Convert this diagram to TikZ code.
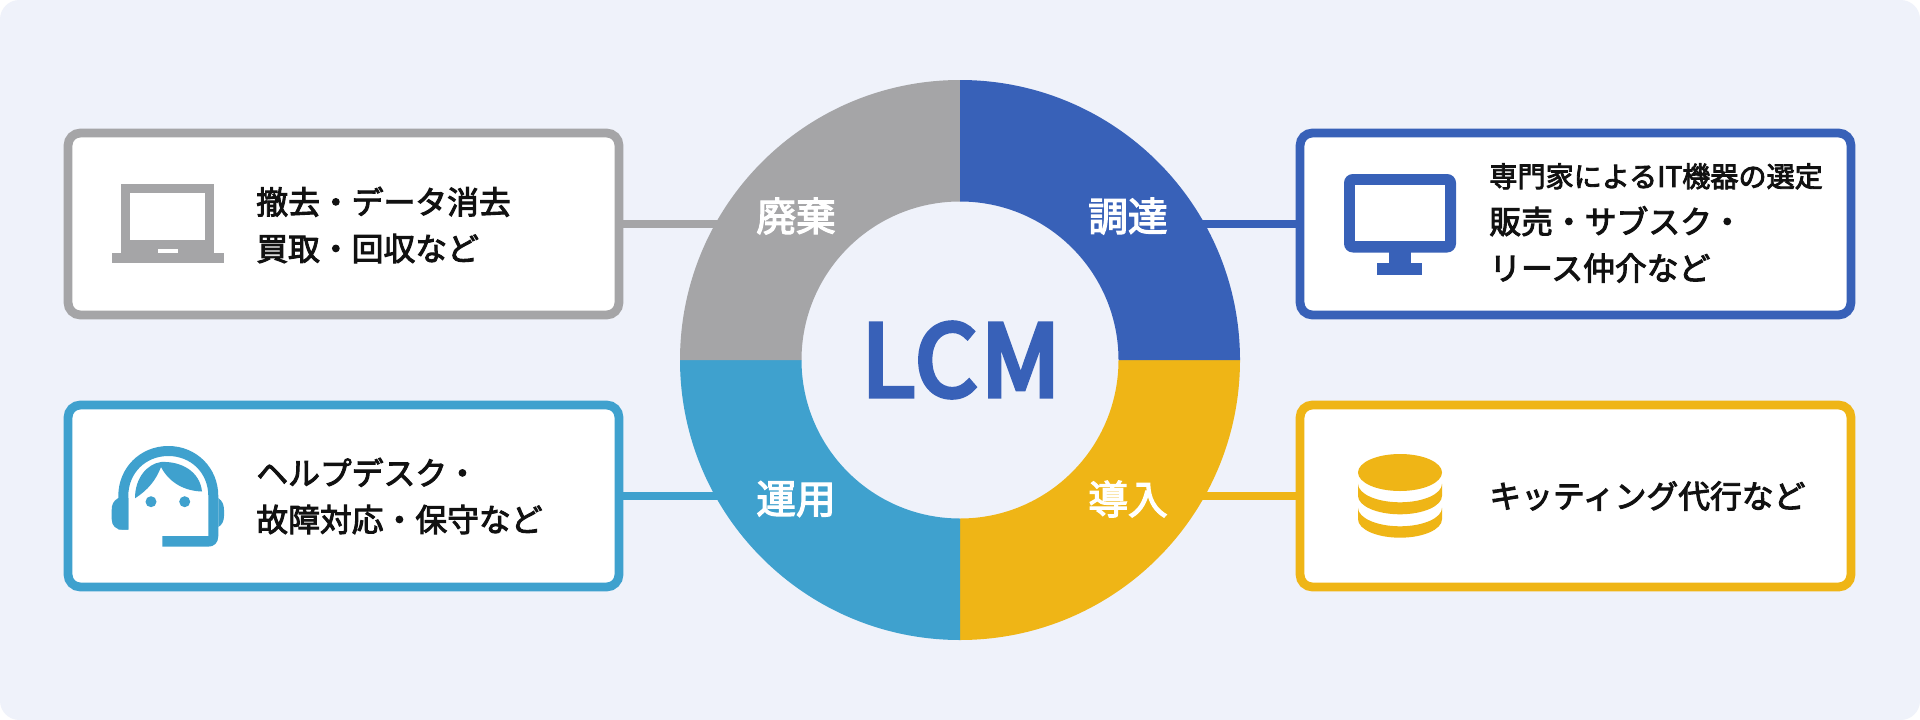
\documentclass[tikz,border=0pt]{standalone}
\usepackage{fontspec}
\usepackage{tikz}
\usetikzlibrary{calc,positioning}
\setmainfont{Noto Sans CJK JP}
\newfontfamily\jpfont[FakeBold=3]{Noto Sans CJK JP}
\newfontfamily\lcmfont[FakeBold=5,LetterSpace=3]{Noto Sans CJK JP}
\definecolor{pagebg}{HTML}{EFF2FA}
\definecolor{lcmgray}{HTML}{A5A5A7}
\definecolor{lcmblue}{HTML}{3861B8}
\definecolor{lcmgold}{HTML}{EFB516}
\definecolor{lcmcyan}{HTML}{3FA1CE}
\definecolor{inktext}{HTML}{111111}
\tikzset{
  itembox/.style   = {rectangle, draw=#1, fill=white, line width=5pt, rounded corners=7pt,
                      minimum width=11.02cm, minimum height=3.64cm, inner sep=0pt},
  stub/.style      = {draw=#1, line width=4.5pt},
  boxtext/.style   = {anchor=west, align=left, inner sep=0pt, text=inktext,
                      font=\jpfont\fontsize{18.1pt}{26.5pt}\selectfont},
  ringlabel/.style = {text=white, inner sep=0pt, font=\jpfont\fontsize{22.6pt}{26pt}\selectfont},
}

\begin{document}
\begin{tikzpicture}[x=0.02cm,y=-0.02cm]
  \useasboundingbox (0,0) rectangle (1920,720);

  % ---- page ---------------------------------------------------------------
  \fill[white] (0,0) rectangle (1920,720);
  \fill[pagebg,rounded corners=11pt] (0,0) rectangle (1920,720);

  % ---- the four boxes -----------------------------------------------------
  \node[itembox=lcmgray] (boxdispose) at (343.5,224) {};
  \node[itembox=lcmblue] (boxbuy)     at (1575.5,224) {};
  \node[itembox=lcmcyan] (boxrun)     at (343.5,496) {};
  \node[itembox=lcmgold] (boxsetup)   at (1575.5,496) {};

  % ---- connectors, their far ends run under the ring ----------------------
  \coordinate (ringdispose) at (725,224);
  \coordinate (ringbuy)     at (1195,224);
  \coordinate (ringrun)     at (725,496);
  \coordinate (ringsetup)   at (1195,496);
  \draw[stub=lcmgray] (boxdispose.east) -- (ringdispose);
  \draw[stub=lcmblue] (boxbuy.west) -- (ringbuy);
  \draw[stub=lcmcyan] (boxrun.east) -- (ringrun);
  \draw[stub=lcmgold] (boxsetup.west) -- (ringsetup);

  % ---- ring ---------------------------------------------------------------
  \coordinate (ringc) at (960,360);
  \foreach \a/\col in {0/lcmgold,90/lcmcyan,180/lcmgray,270/lcmblue} {
    \fill[\col] ($(ringc)+(\a:280)$) arc [start angle=\a, end angle=\a+90, radius=280]
      -- ($(ringc)+(\a+90:158.5)$) arc [start angle=\a+90, end angle=\a, radius=158.5] -- cycle;
  }

  % ---- laptop -------------------------------------------------------------
  \fill[lcmgray] (121,184) rectangle (214.4,254);
  \fill[lcmgray] (112,253.3) rectangle (224,262.7);
  \fill[white] (130,192.7) rectangle (205.3,240);
  \fill[white] (158,248.7) rectangle (177.6,253.3);

  % ---- monitor ------------------------------------------------------------
  \fill[lcmblue,rounded corners=5pt] (1344,174) rectangle (1456,252.5);
  \fill[white] (1355,184.7) rectangle (1445,241);
  \fill[lcmblue] (1388.7,252) rectangle (1411,264);
  \fill[lcmblue] (1377,263) rectangle (1422,274.7);

  % ---- database -----------------------------------------------------------
  \foreach \y/\z in {483.8/495.8,507.8/519.2} {
    \fill[lcmgold] (1358,\y) arc [start angle=180, end angle=0, x radius=42, y radius=18.5]
      -- (1442,\z) arc [start angle=0, end angle=180, x radius=42, y radius=18.5] -- cycle;
  }
  \fill[lcmgold] (1400,472.5) ellipse [x radius=42, y radius=18.5];

  % ---- headset ------------------------------------------------------------
  \fill[lcmcyan] (118.3,529.5) -- (118.3,496)
      .. controls (118.3,468) and (140,446) .. (168.3,446)
      .. controls (196.6,446) and (218.3,468) .. (218.3,496)
      -- (218.3,536) .. controls (218.3,543) and (214,546.7) .. (208,546.7)
      -- (162.3,546.7) -- (162.3,536) -- (208.3,536) -- (208.3,496)
      .. controls (208.3,473) and (191,456) .. (168.3,456)
      .. controls (145.6,456) and (128.3,473) .. (128.3,496)
      -- (128.3,529.5) -- cycle;
  \fill[lcmcyan] (118.3,498) .. controls (113,501) and (111.7,505) .. (111.7,510)
      -- (111.7,519) .. controls (111.7,526) and (116,529.5) .. (122,529.5) -- (128.3,529.5) -- (128.3,498) -- cycle;
  \fill[lcmcyan] (218.3,498) .. controls (222.5,501) and (224,505) .. (224,510)
      -- (224,516) .. controls (224,521) and (222,525) .. (218.3,527) -- cycle;
  \fill[lcmcyan] (135,498.3) .. controls (135,478) and (147,464) .. (161,462)
      .. controls (182,461) and (200,472) .. (202,491.5)
      .. controls (186,491) and (170,484) .. (161,467)
      .. controls (156,480) and (148,490) .. (135,498.3) -- cycle;
  \fill[lcmcyan] (151,501.7) circle [radius=5.5];
  \fill[lcmcyan] (184.7,501.7) circle [radius=5.5];

  % ---- ring labels --------------------------------------------------------
  \node[ringlabel] (lbldispose) at (796,216) {廃棄};
  \node[ringlabel] (lblbuy)     at (1128,216) {調達};
  \node[ringlabel] (lblrun)     at (796,499) {運用};
  \node[ringlabel] (lblsetup)   at (1128,499) {導入};
  \node[text=lcmblue,inner sep=0pt,font=\lcmfont\fontsize{56pt}{60pt}\selectfont] (lcm) at (961,360) {LCM};

  % ---- box texts ----------------------------------------------------------
  \node[boxtext] (txtdispose) at (256,225) {撤去・データ消去\\買取・回収など};
  \node[boxtext] (txtbuy)     at (1489,223) {{\fontsize{16pt}{25pt}\selectfont 専門家によるIT機器の選定}\\販売・サブスク・\\リース仲介など};
  \node[boxtext] (txtrun)     at (256,496) {ヘルプデスク・\\故障対応・保守など};
  \node[boxtext] (txtsetup)   at (1489,496) {キッティング代行など};
\end{tikzpicture}
\end{document}
